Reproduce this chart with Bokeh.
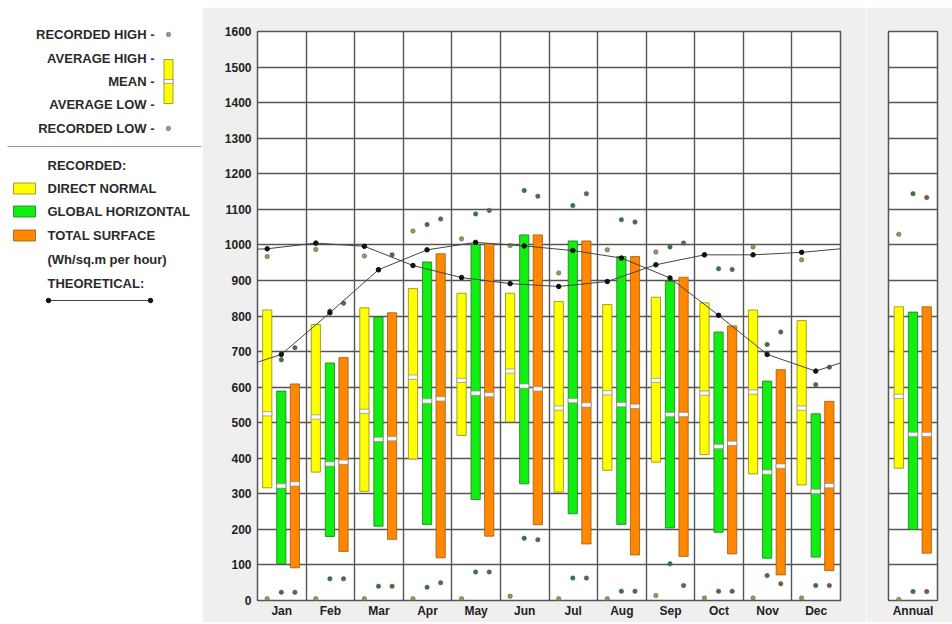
from bokeh.plotting import figure
from bokeh.models import FixedTicker, Range1d, Spacer
from bokeh.layouts import row, column
from bokeh.embed import file_html
from bokeh.resources import INLINE
from bokeh.core.properties import value

# ---------------- data ----------------
months = ["Jan", "Feb", "Mar", "Apr", "May", "Jun", "Jul", "Aug", "Sep", "Oct", "Nov", "Dec"]

# Direct normal (yellow)
dn_avg_high = [817, 776, 823, 877, 864, 864, 841, 832, 853, 837, 817, 787]
dn_avg_low = [317, 361, 307, 398, 464, 502, 305, 366, 389, 410, 356, 325]
dn_mean = [525, 516, 532, 628, 619, 645, 541, 584, 619, 583, 586, 541]
dn_rec_high = [967, 987, 969, 1039, 1017, 998, 921, 986, 980, 972, 994, 958]
dn_rec_low = [5, 5, 5, 5, 5, 12, 5, 5, 14, 7, 7, 7]

# Global horizontal (green)
gh_avg_high = [589, 668, 797, 952, 1001, 1028, 1011, 967, 897, 755, 617, 525]
gh_avg_low = [103, 180, 209, 214, 284, 328, 244, 214, 204, 192, 119, 122]
gh_mean = [322, 384, 453, 561, 583, 603, 562, 551, 523, 433, 361, 307]
gh_rec_high = [677, 814, 930, 1057, 1087, 1153, 1111, 1071, 994, 933, 720, 607]
gh_rec_low = [23, 61, 40, 37, 80, 175, 63, 26, 103, 26, 70, 42]

# Total surface (orange)
ts_avg_high = [609, 683, 809, 975, 1003, 1028, 1011, 967, 909, 772, 649, 560]
ts_avg_low = [92, 138, 172, 120, 181, 213, 159, 128, 124, 131, 72, 84]
ts_mean = [328, 389, 455, 567, 579, 595, 550, 546, 523, 442, 378, 323]
ts_rec_high = [711, 836, 972, 1073, 1097, 1137, 1144, 1064, 1005, 931, 755, 656]
ts_rec_low = [23, 61, 40, 50, 80, 171, 63, 26, 42, 26, 47, 42]

# Theoretical curves (value at start of year, monthly values, value at end of year)
theo_dn_start, theo_dn_end = 988, 989
theo_dn = [989, 1005, 996, 942, 908, 891, 883, 897, 944, 972, 972, 979]
theo_gh_start, theo_gh_end = 670, 668
theo_gh = [692, 809, 930, 986, 1007, 997, 984, 963, 907, 802, 692, 645]

# Annual
annual_label = ["Annual"]
ann_avg_high = [826, 811, 826]
ann_avg_low = [372, 200, 133]
ann_mean = [574, 467, 467]
ann_rec_high = [1030, 1144, 1133]
ann_rec_low = [3, 25, 25]

y_ticks = list(range(0, 1700, 100))

# ---------------- styles ----------------
FONT = "Liberation Sans"
BAR_COLORS = ["#ffff00", "#11ee11", "#ff8800"]
BAR_LINES = ["#8a8a10", "#1f7a1f", "#9a5a10"]
DOT_COLORS = ["#9a9a4a", "#2f7a3a", "#7a5a3a"]
OFFSETS = [0.2, 0.49, 0.77]
BAR_W = 0.19
GRID_COLOR = "#555555"
BG = "#efefef"
TOP_GAP = 7
FIG_H = 615
TOP = 24
BOTTOM = 22
LG_H = TOP_GAP + FIG_H

series = [
    (dn_avg_high, dn_avg_low, dn_mean, dn_rec_high, dn_rec_low),
    (gh_avg_high, gh_avg_low, gh_mean, gh_rec_high, gh_rec_low),
    (ts_avg_high, ts_avg_low, ts_mean, ts_rec_high, ts_rec_low),
]


def style_fig(p):
    p.background_fill_color = "white"
    p.border_fill_color = BG
    p.outline_line_color = GRID_COLOR
    p.outline_line_width = 1.5
    p.ygrid.ticker = FixedTicker(ticks=y_ticks)
    p.ygrid.grid_line_color = GRID_COLOR
    p.ygrid.grid_line_width = 1.4
    for ax in p.axis:
        ax.axis_line_color = None
        ax.major_tick_line_color = None
        ax.minor_tick_line_color = None
        ax.major_tick_out = 0
        ax.major_tick_in = 0
        ax.major_label_text_font = FONT
        ax.major_label_text_font_style = "bold"
        ax.major_label_text_font_size = "12px"
        ax.major_label_text_color = "#222222"


# ---------------- main chart ----------------
p = figure(width=664, height=FIG_H, x_range=Range1d(0, 12), y_range=Range1d(0, 1600),
           output_backend="svg", toolbar_location=None,
           min_border_left=55, min_border_right=26, min_border_top=TOP, min_border_bottom=BOTTOM)
style_fig(p)
p.yaxis.ticker = FixedTicker(ticks=y_ticks)
p.yaxis.major_label_standoff = 6
p.xaxis.ticker = FixedTicker(ticks=[i + 0.5 for i in range(len(months))])
p.xaxis.major_label_overrides = {i + 0.5: m for i, m in enumerate(months)}
p.xaxis.major_label_standoff = 3
p.xgrid.ticker = FixedTicker(ticks=list(range(len(months) + 1)))
p.xgrid.grid_line_color = GRID_COLOR
p.xgrid.grid_line_width = 1.4

idx = list(range(len(months)))
for k, (hi, lo, mn, rh, rl) in enumerate(series):
    xs = [i + OFFSETS[k] for i in idx]
    p.vbar(x=xs, top=hi, bottom=lo, width=BAR_W, fill_color=BAR_COLORS[k],
           line_color=BAR_LINES[k], line_width=0.8)
    p.rect(x=xs, y=mn, width=BAR_W, height=12, fill_color="white",
           line_color="#8a8a8a", line_width=0.7)
    p.scatter(x=xs, y=rh, size=4.5, fill_color=DOT_COLORS[k], line_color="#555555", line_width=0.5)
    p.scatter(x=xs, y=rl, size=4.5, fill_color=DOT_COLORS[k], line_color="#555555", line_width=0.5)

# theoretical curves
for vals, start, end, k in [(theo_dn, theo_dn_start, theo_dn_end, 0),
                            (theo_gh, theo_gh_start, theo_gh_end, 1)]:
    xs = [i + OFFSETS[k] for i in idx]
    p.line(x=[0] + xs + [12], y=[start] + vals + [end], line_color="#444444", line_width=1)
    p.scatter(x=xs, y=vals, size=4.5, fill_color="#111111", line_color="#111111")

# ---------------- annual panel ----------------
pa = figure(width=86, height=FIG_H, x_range=Range1d(0, 1), y_range=Range1d(0, 1600),
            output_backend="svg", toolbar_location=None,
            min_border_left=22, min_border_right=15, min_border_top=TOP, min_border_bottom=BOTTOM)
style_fig(pa)
pa.yaxis.visible = False
pa.xgrid.grid_line_color = None
pa.xaxis.ticker = FixedTicker(ticks=[0.5])
pa.xaxis.major_label_overrides = {0.5: annual_label[0]}
pa.xaxis.major_label_standoff = 3
ax_x = [OFFSETS[k] + 0.01 for k in range(3)]
pa.vbar(x=ax_x, top=ann_avg_high, bottom=ann_avg_low, width=BAR_W, fill_color=BAR_COLORS,
        line_color=BAR_LINES, line_width=0.8)
pa.rect(x=ax_x, y=ann_mean, width=BAR_W, height=12, fill_color="white",
        line_color="#8a8a8a", line_width=0.7)
pa.scatter(x=ax_x, y=ann_rec_high, size=4.5, fill_color=DOT_COLORS, line_color="#555555", line_width=0.5)
pa.scatter(x=ax_x, y=ann_rec_low, size=4.5, fill_color=DOT_COLORS, line_color="#555555", line_width=0.5)

# ---------------- legend panel ----------------
LG_W = 202
lg = figure(width=LG_W, height=LG_H, x_range=Range1d(0, LG_W), y_range=Range1d(LG_H, 0),
            output_backend="svg", toolbar_location=None, min_border=0)
lg.axis.visible = False
lg.grid.visible = False
lg.outline_line_color = None
lg.background_fill_color = "white"
lg.border_fill_color = "white"

txt_kw = dict(text_font=value(FONT), text_font_style="bold", text_font_size="13px",
              text_color="#2a2a2a", text_baseline="middle")

key_labels = ["RECORDED HIGH -", "AVERAGE HIGH -", "MEAN -", "AVERAGE LOW -", "RECORDED LOW -"]
key_y = [34, 58, 81, 104, 128]
lg.text(x=[154] * 5, y=key_y, text=key_labels, text_align="right", **txt_kw)
lg.scatter(x=[168, 168], y=[key_y[0], key_y[4]], size=4.5, fill_color="#9a9a9a",
           line_color="#555555", line_width=0.5)
lg.quad(left=[163.5], right=[172.5], top=[key_y[1] + 1], bottom=[key_y[3] - 1],
        fill_color=BAR_COLORS[0], line_color=BAR_LINES[0], line_width=0.8)
lg.quad(left=[163.5], right=[172.5], top=[key_y[2] - 2], bottom=[key_y[2] + 2],
        fill_color="white", line_color="#8a8a8a", line_width=0.7)
lg.line(x=[7, 201], y=[146, 146], line_color="#9a9a9a", line_width=1)

lg.text(x=[47], y=[165], text=["RECORDED:"], **txt_kw)
sw_y = [188, 211, 235]
for k, name in enumerate(["DIRECT NORMAL", "GLOBAL HORIZONTAL", "TOTAL SURFACE"]):
    lg.quad(left=[13], right=[35], top=[sw_y[k] - 5.5], bottom=[sw_y[k] + 5.5],
            fill_color=BAR_COLORS[k], line_color=BAR_LINES[k], line_width=0.8)
    lg.text(x=[47], y=[sw_y[k]], text=[name], **txt_kw)
lg.text(x=[47], y=[259], text=["(Wh/sq.m per hour)"], **txt_kw)
lg.text(x=[47], y=[283], text=["THEORETICAL:"], **txt_kw)
lg.line(x=[48, 150], y=[300, 300], line_color="#444444", line_width=1)
lg.scatter(x=[48, 150], y=[300, 300], size=4.5, fill_color="#111111", line_color="#111111")

layout = row(lg, column(Spacer(width=750, height=TOP_GAP), row(p, pa, spacing=0), spacing=0), spacing=0)
open("out.html", "w").write(file_html(layout, INLINE))
